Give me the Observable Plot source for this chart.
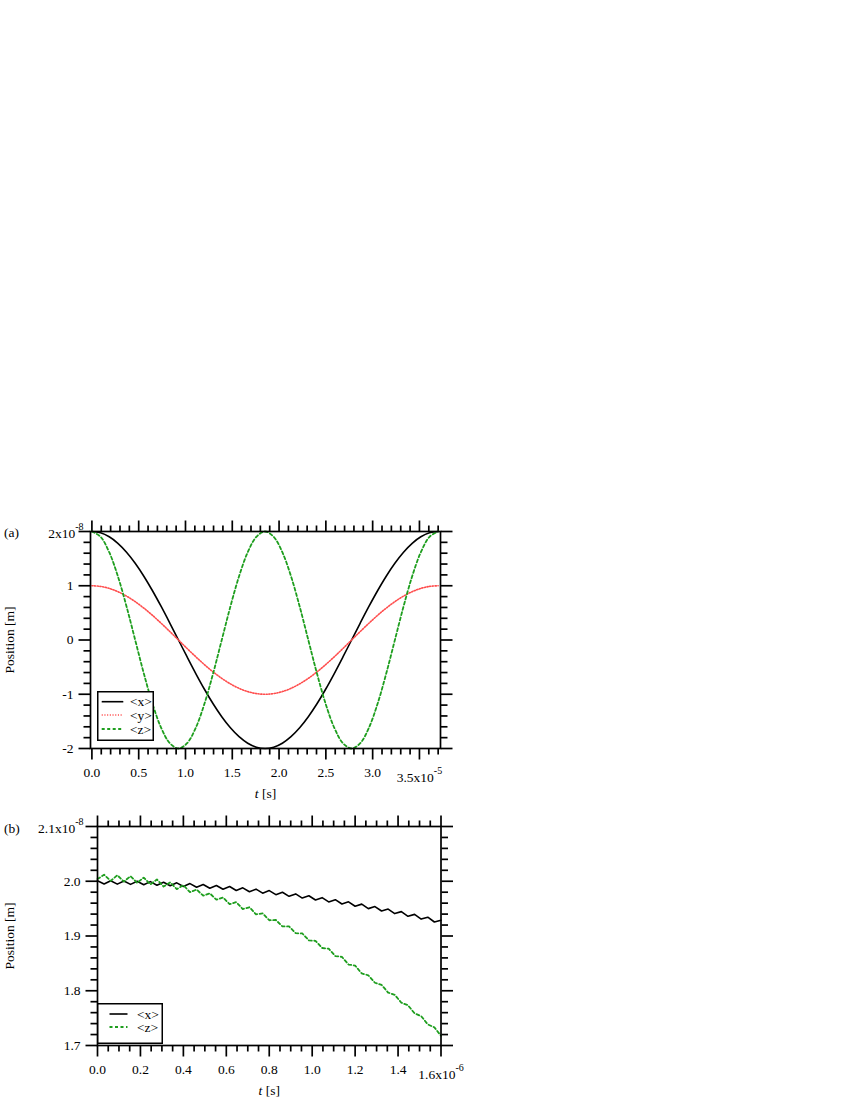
<!DOCTYPE html>
<html><head><meta charset="utf-8">
<script src="https://cdn.jsdelivr.net/npm/d3@7"></script>
<script src="https://cdn.jsdelivr.net/npm/@observablehq/plot@0.6"></script>
<style>
html,body{margin:0;padding:0;background:#fff;}
#wrap{position:relative;width:850px;height:1100px;font-family:"Liberation Serif","Times New Roman",serif;color:#000;}
.panel{position:absolute;left:0;}
.tag{position:absolute;font-size:13.5px;line-height:13px;}
.legend{position:absolute;overflow:visible;}
</style></head>
<body><div id="wrap"></div>
<script>
// ---------- Panel (a): time in 1e-5 s, position in 1e-8 m ----------
const tA = [0, 0.0925, 0.185, 0.2775, 0.37, 0.4625, 0.555, 0.6475, 0.74, 0.8325, 0.925, 1.0175, 1.11, 1.2025, 1.295, 1.3875, 1.48, 1.5725, 1.665, 1.7575, 1.85, 1.9425, 2.035, 2.1275, 2.22, 2.3125, 2.405, 2.4975, 2.59, 2.6825, 2.775, 2.8675, 2.96, 3.0525, 3.145, 3.2375, 3.33, 3.4225, 3.515, 3.6075, 3.70];
const xA = [2, 1.9754, 1.9021, 1.7820, 1.6180, 1.4142, 1.1756, 0.9080, 0.6180, 0.3129, 0, -0.3129, -0.6180, -0.9080, -1.1756, -1.4142, -1.6180, -1.7820, -1.9021, -1.9754, -2, -1.9754, -1.9021, -1.7820, -1.6180, -1.4142, -1.1756, -0.9080, -0.6180, -0.3129, 0, 0.3129, 0.6180, 0.9080, 1.1756, 1.4142, 1.6180, 1.7820, 1.9021, 1.9754, 2];
const yA = [1, 0.9877, 0.9511, 0.8910, 0.8090, 0.7071, 0.5878, 0.4540, 0.3090, 0.1564, 0, -0.1564, -0.3090, -0.4540, -0.5878, -0.7071, -0.8090, -0.8910, -0.9511, -0.9877, -1, -0.9877, -0.9511, -0.8910, -0.8090, -0.7071, -0.5878, -0.4540, -0.3090, -0.1564, 0, 0.1564, 0.3090, 0.4540, 0.5878, 0.7071, 0.8090, 0.8910, 0.9511, 0.9877, 1];
const zA = [2, 1.9021, 1.6180, 1.1756, 0.6180, 0, -0.6180, -1.1756, -1.6180, -1.9021, -2, -1.9021, -1.6180, -1.1756, -0.6180, 0, 0.6180, 1.1756, 1.6180, 1.9021, 2, 1.9021, 1.6180, 1.1756, 0.6180, 0, -0.6180, -1.1756, -1.6180, -1.9021, -2, -1.9021, -1.6180, -1.1756, -0.6180, 0, 0.6180, 1.1756, 1.6180, 1.9021, 2];
const xTicksA = [0, 0.5, 1, 1.5, 2, 2.5, 3, 3.5];
const xLabelsA = ["0.0", "0.5", "1.0", "1.5", "2.0", "2.5", "3.0", "3.5x10^-5"];
const yTicksA = [-2, -1, 0, 1, 2];
const yLabelsA = ["-2", "-1", "0", "1", "2x10^-8"];

// ---------- Panel (b): time in 1e-6 s, position in 1e-8 m ----------
const tB = [0, 0.0308, 0.0615, 0.0923, 0.1231, 0.1538, 0.1846, 0.2154, 0.2462, 0.2769, 0.3077, 0.3385, 0.3692, 0.4, 0.4308, 0.4615, 0.4923, 0.5231, 0.5538, 0.5846, 0.6154, 0.6462, 0.6769, 0.7077, 0.7385, 0.7692, 0.8, 0.8308, 0.8615, 0.8923, 0.9231, 0.9538, 0.9846, 1.0154, 1.0462, 1.0769, 1.1077, 1.1385, 1.1692, 1.2, 1.2308, 1.2615, 1.2923, 1.3231, 1.3538, 1.3846, 1.4154, 1.4462, 1.4769, 1.5077, 1.5385, 1.5692, 1.6];
const xB = [2.0010, 1.9950, 2.0009, 1.9948, 2.0006, 1.9943, 2.0000, 1.9937, 1.9993, 1.9928, 1.9983, 1.9918, 1.9971, 1.9905, 1.9957, 1.9890, 1.9941, 1.9872, 1.9923, 1.9853, 1.9903, 1.9832, 1.9880, 1.9808, 1.9856, 1.9782, 1.9829, 1.9755, 1.9800, 1.9725, 1.9769, 1.9693, 1.9736, 1.9658, 1.9700, 1.9622, 1.9663, 1.9584, 1.9624, 1.9543, 1.9582, 1.9500, 1.9538, 1.9456, 1.9492, 1.9409, 1.9445, 1.9360, 1.9395, 1.9309, 1.9343, 1.9256, 1.9288];
const zB = [2.0040, 2.0119, 2.0006, 2.0110, 1.9993, 2.0093, 1.9971, 2.0067, 1.9941, 2.0033, 1.9903, 1.9980, 1.9856, 1.9929, 1.9800, 1.9849, 1.9736, 1.9780, 1.9663, 1.9704, 1.9582, 1.9618, 1.9492, 1.9525, 1.9395, 1.9413, 1.9288, 1.9292, 1.9174, 1.9174, 1.9051, 1.9047, 1.8920, 1.8912, 1.8781, 1.8769, 1.8634, 1.8618, 1.8479, 1.8459, 1.8316, 1.8282, 1.8146, 1.8107, 1.7967, 1.7925, 1.7781, 1.7735, 1.7587, 1.7537, 1.7385, 1.7332, 1.7177];
const xTicksB = [0, 0.2, 0.4, 0.6, 0.8, 1.0, 1.2, 1.4, 1.6];
const xLabelsB = ["0.0", "0.2", "0.4", "0.6", "0.8", "1.0", "1.2", "1.4", "1.6x10^-6"];
const yTicksB = [1.7, 1.8, 1.9, 2.0, 2.1];
const yLabelsB = ["1.7", "1.8", "1.9", "2.0", "2.1x10^-8"];

const seriesNames = ["<x>", "<y>", "<z>"];
const seriesColors = ["#000000", "#ff4d4d", "#1e9e1e"];
const seriesDash = [null, "1.1,1.6", "3,2.5"];
const seriesWidth = [1.6, 1.6, 1.8];

// minor ticks
const xMinorA = d3.range(1, 38).filter(i => i % 5 !== 0).map(i => i / 10);
const yMinorA = d3.range(-10, 11).filter(i => i % 5 !== 0).map(i => i / 5);
const xMinorB = d3.range(1, 32).filter(i => i % 4 !== 0).map(i => i * 0.05);
const yMinorB = d3.range(1, 20).filter(i => i % 5 !== 0).map(i => 1.7 + i * 0.02);

function fmt(ticks, labels) {
  return d => { const i = ticks.findIndex(v => Math.abs(v - d) < 1e-9); return i >= 0 ? labels[i] : ""; };
}

function panel(cfg) {
  const marks = [];
  const sw = 1.7;
  const none = () => "";
  marks.push(Plot.axisX(cfg.xTicks, {anchor: "bottom", tickSize: 11.5, tickPadding: 7, tickFormat: fmt(cfg.xTicks, cfg.xLabels), strokeWidth: sw, color: "black", label: "t [s]", labelAnchor: "center", labelOffset: 49, labelArrow: "none"}));
  marks.push(Plot.axisX(cfg.xMinor, {anchor: "bottom", tickSize: 6.5, tickFormat: none, strokeWidth: sw, color: "black", label: null}));
  marks.push(Plot.axisX(cfg.xTicks, {anchor: "top", tickSize: 11.5, tickFormat: none, strokeWidth: sw, color: "black", label: null}));
  marks.push(Plot.axisX(cfg.xMinor, {anchor: "top", tickSize: 6.5, tickFormat: none, strokeWidth: sw, color: "black", label: null}));
  marks.push(Plot.axisY(cfg.yTicks, {anchor: "left", tickSize: 11.5, tickPadding: 5.5, tickFormat: fmt(cfg.yTicks, cfg.yLabels), strokeWidth: sw, color: "black", label: "Position [m]", labelAnchor: "center", labelOffset: cfg.ml - 4, labelArrow: "none"}));
  marks.push(Plot.axisY(cfg.yMinor, {anchor: "left", tickSize: 6.5, tickFormat: none, strokeWidth: sw, color: "black", label: null}));
  marks.push(Plot.axisY(cfg.yTicks, {anchor: "right", tickSize: 11.5, tickFormat: none, strokeWidth: sw, color: "black", label: null}));
  marks.push(Plot.axisY(cfg.yMinor, {anchor: "right", tickSize: 6.5, tickFormat: none, strokeWidth: sw, color: "black", label: null}));
  cfg.series.forEach(s => {
    const rows = cfg.t.map((t, i) => ({t, v: s.values[i]}));
    marks.push(Plot.line(rows, {x: "t", y: "v", stroke: seriesColors[s.idx], strokeWidth: seriesWidth[s.idx], strokeDasharray: seriesDash[s.idx], curve: cfg.curve}));
  });
  marks.push(Plot.frame({stroke: "black", strokeWidth: sw}));
  const svg = Plot.plot({
    width: 850, height: cfg.height,
    marginLeft: cfg.ml, marginRight: 850 - cfg.right, marginTop: cfg.mt,
    marginBottom: cfg.height - cfg.mt - cfg.ih,
    x: {domain: cfg.xDomain}, y: {domain: cfg.yDomain},
    style: {fontFamily: '"Liberation Serif","Times New Roman",serif', fontSize: "13.5px", color: "black", background: "transparent", overflow: "visible"},
    marks
  });
  // superscript exponents
  d3.select(svg).selectAll("text").each(function () {
    const s = this.textContent;
    const k = s.indexOf("^");
    if (k < 0) return;
    const p = this.closest("g[aria-label]");
    const isY = p && p.getAttribute("aria-label").startsWith("y");
    const sel = d3.select(this);
    sel.text(null);
    sel.append("tspan").attr("dy", isY ? 2 : 5).text(s.slice(0, k));
    sel.append("tspan").attr("dy", -8).attr("font-size", "10px").text(s.slice(k + 1));
    if (isY) {
      const tr = sel.attr("transform");
      sel.attr("transform", (tr ? tr + " " : "") + `translate(${cfg.yShift},0)`);
    }
  });
  d3.select(svg).selectAll('g[aria-label="x-axis label"] text').each(function () {
    const sel = d3.select(this);
    sel.text(null);
    sel.append("tspan").attr("font-style", "italic").text("t");
    sel.append("tspan").text(" [s]");
  });
  return svg;
}

const wrap = document.getElementById("wrap");
function place(node, top) {
  const d = document.createElement("div");
  d.className = "panel"; d.style.top = top + "px";
  d.appendChild(node); wrap.appendChild(d);
}

place(panel({
  t: tA, series: [{idx: 0, values: xA}, {idx: 1, values: yA}, {idx: 2, values: zA}],
  xDomain: [-0.015, 3.725], yDomain: [-2, 2],
  xTicks: xTicksA, xLabels: xLabelsA, yTicks: yTicksA, yLabels: yLabelsA,
  xMinor: xMinorA, yMinor: yMinorA,
  height: 320, mt: 51, ih: 217, ml: 90, right: 440, curve: "catmull-rom", yShift: 10
}), 480);

place(panel({
  t: tB, series: [{idx: 0, values: xB}, {idx: 2, values: zB}],
  xDomain: [0, 1.6], yDomain: [1.7, 2.1],
  xTicks: xTicksB, xLabels: xLabelsB, yTicks: yTicksB, yLabels: yLabelsB,
  xMinor: xMinorB, yMinor: yMinorB,
  height: 300, mt: 26, ih: 219, ml: 97, right: 440.5, curve: "linear", yShift: 3
}), 800);

// panel tags
[["(a)", 526], ["(b)", 822]].forEach(([s, top]) => {
  const d = document.createElement("div");
  d.className = "tag"; d.style.left = "4px"; d.style.top = top + "px"; d.textContent = s;
  wrap.appendChild(d);
});

// legends
function legend(left, top, w, h, idxs, rows, x0, x1, tx) {
  const svg = d3.create("svg").attr("class", "legend").attr("width", w).attr("height", h)
    .style("left", left + "px").style("top", top + "px");
  svg.append("rect").attr("x", 0.75).attr("y", 0.75).attr("width", w - 1.5).attr("height", h - 1.5)
    .attr("fill", "#fff").attr("stroke", "#000").attr("stroke-width", 1.5);
  idxs.forEach((idx, j) => {
    svg.append("line").attr("x1", x0).attr("x2", x1).attr("y1", rows[j]).attr("y2", rows[j])
      .attr("stroke", seriesColors[idx]).attr("stroke-width", seriesWidth[idx])
      .attr("stroke-dasharray", seriesDash[idx]);
    svg.append("text").attr("x", tx).attr("y", rows[j]).attr("dy", "0.34em")
      .attr("font-family", '"Liberation Serif","Times New Roman",serif').attr("font-size", 13.5)
      .text(seriesNames[idx]);
  });
  wrap.appendChild(svg.node());
}
legend(97, 691, 57, 50, [0, 1, 2], [10.7, 24, 38], 4.7, 26.3, 33);
legend(96.5, 1003, 66, 41, [0, 2], [11, 24], 12.5, 30.5, 40);
</script>
</body></html>
